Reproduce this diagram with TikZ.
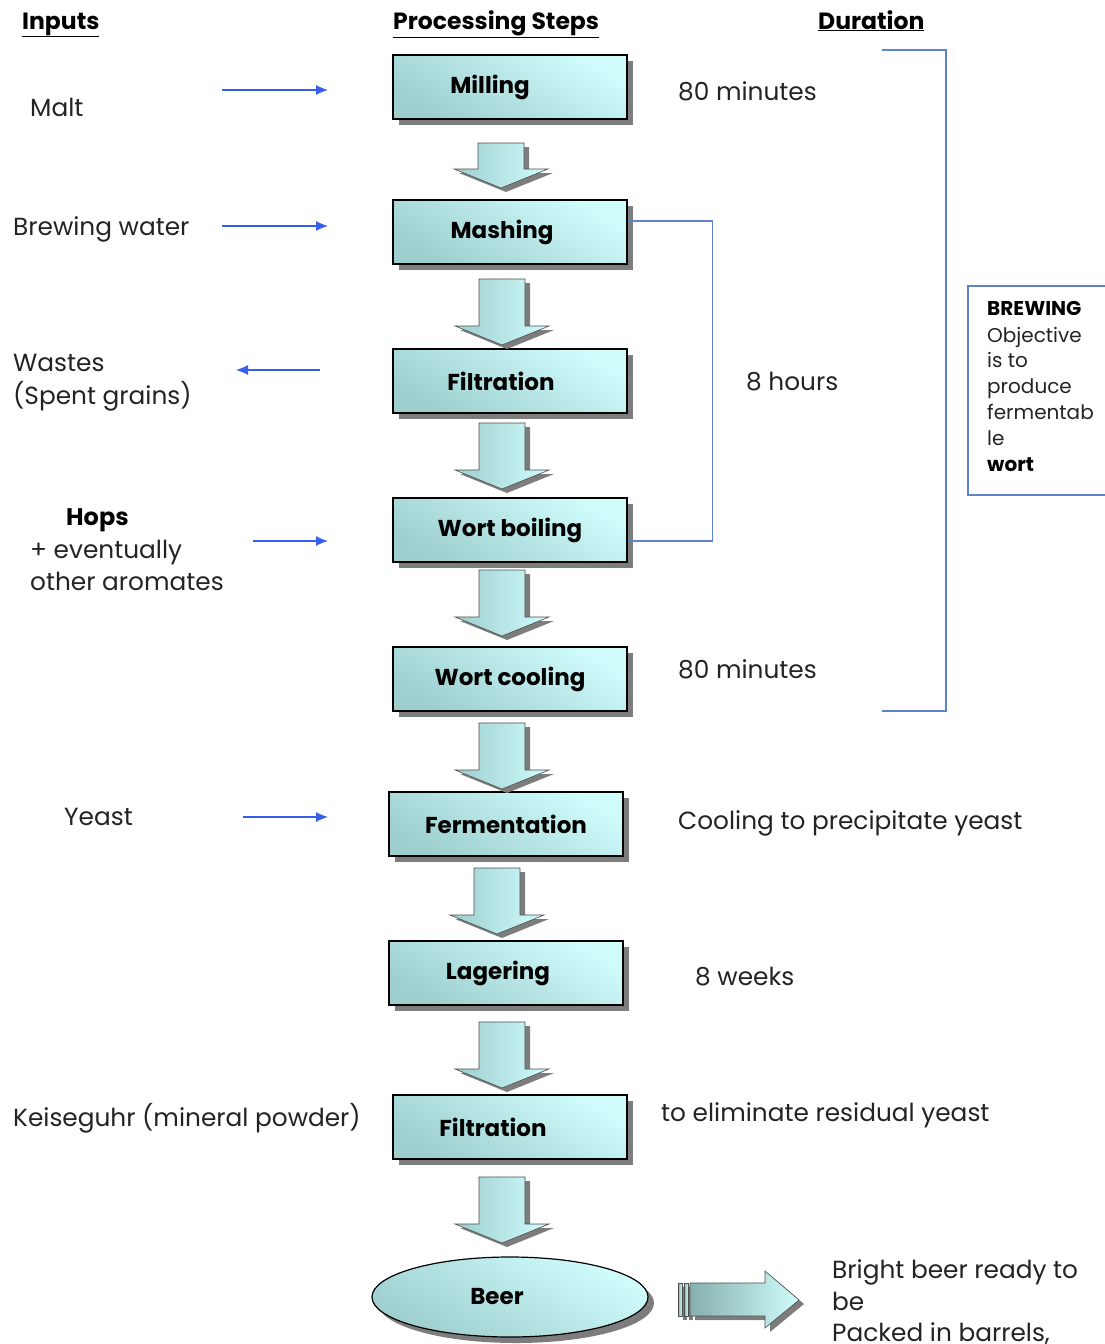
\documentclass[tikz,border=0pt]{standalone}
\usepackage{fontspec}
\setmainfont{Poppins}
\usetikzlibrary{positioning,arrows.meta,calc,shadows,shapes.geometric}
\definecolor{bwCyanLight}{RGB}{208,252,252}
\definecolor{bwCyanDark}{RGB}{158,206,206}
\definecolor{bwBlue}{RGB}{55,95,235}
\definecolor{bwFrame}{RGB}{95,130,205}
\definecolor{bwShadow}{RGB}{125,125,125}
\definecolor{bwText}{RGB}{35,35,35}

\tikzset{
  stepbox/.style={draw=black, line width=1.2pt, top color=bwCyanLight, bottom color=bwCyanDark,
    shading angle=-30, minimum width=234pt, minimum height=64pt,
    font=\fontsize{23}{27}\selectfont\bfseries,
    drop shadow={shadow xshift=6pt, shadow yshift=-6pt, fill=bwShadow, opacity=1}},
  beernode/.style={stepbox, ellipse, minimum width=276pt, minimum height=80pt, inner sep=0pt},
  flowarrow/.style={draw=black!70, line width=0.6pt, left color=bwCyanDark, right color=bwCyanLight,
    drop shadow={shadow xshift=5pt, shadow yshift=-4pt, fill=bwShadow, opacity=1}},
  packarrow/.style={flowarrow, left color=bwCyanDark!85!black, right color=bwCyanLight},
  inarrow/.style={bwBlue, line width=1.1pt, -{Latex[length=12pt,width=10pt]}},
  frameline/.style={bwFrame, line width=1.1pt},
  plain/.style={anchor=base west, inner sep=0pt, text=bwText, font=\fontsize{24.8}{32}\selectfont},
  heading/.style={anchor=base west, inner sep=0pt, font=\fontsize{23.5}{27}\selectfont\bfseries},
  small/.style={anchor=base west, inner sep=0pt, text=bwText, font=\fontsize{20}{26}\selectfont}
}

% block arrow pointing down: x, top, bottom
\newcommand{\flowdown}[3]{%
  \path[flowarrow] (#1-23,#2) -- (#1+23,#2) -- (#1+23,#3-19) -- (#1+47,#3-19)
    -- (#1,#3) -- (#1-47,#3-19) -- (#1-23,#3-19) -- cycle;}

\begin{document}
\begin{tikzpicture}[x=1pt, y=-1pt]
  \useasboundingbox (0,0) rectangle (1105,1344);

  % Column headings
  \node[heading] (hIn) at (22,29) {\underline{Inputs}};
  \node[heading] (hSteps) at (393,29) {\underline{Processing Steps}};
  \node[heading] (hDur) at (818,29) {\underline{Duration}};

  % Processing steps
  \node[stepbox] (mill) at (510,87) {\hspace*{-40pt}Milling};
  \node[stepbox] (mash) at (510,232) {\hspace*{-16pt}Mashing};
  \node[stepbox] (filt) at (510,381) {\hspace*{-18pt}Filtration};
  \node[stepbox] (boil) at (510,530) {Wort boiling};
  \node[stepbox] (cool) at (510,679) {Wort cooling};
  \node[stepbox] (ferm) at (506,824) {Fermentation};
  \node[stepbox] (lager) at (506,973) {\hspace*{-16pt}Lagering};
  \node[stepbox] (filtb) at (510,1127) {\hspace*{-34pt}Filtration};
  \node[beernode] (beer) at (510,1297) {\hspace*{-26pt}Beer};

  % Block arrows between steps
  \flowdown{501}{143}{188}
  \flowdown{502}{279}{345}
  \flowdown{502}{423}{489}
  \flowdown{502}{570}{636}
  \flowdown{502}{723}{789}
  \flowdown{497}{868}{934}
  \flowdown{502}{1022}{1088}
  \flowdown{502}{1177}{1243}

  % Inputs
  \node[plain] (malt) at (30,116) {Malt};
  \node[plain] (water) at (13,235) {Brewing water};
  \node[plain] (waste) at (13,371) {Wastes};
  \node[plain] (wasteB) at (13,404) {(Spent grains)};
  \node[plain, font=\fontsize{24}{32}\selectfont\bfseries, text=black] (hops) at (66,525) {Hops};
  \node[plain] (hopsB) at (30,558) {+ eventually};
  \node[plain] (hopsC) at (30,590) {other aromates};
  \node[plain] (yeast) at (64,825) {Yeast};
  \node[plain] (kiesel) at (13,1126) {Keiseguhr (mineral powder)};

  \coordinate (maltS) at (222,90);  \coordinate (maltE) at (328,90);
  \coordinate (waterS) at (222,226); \coordinate (waterE) at (328,226);
  \coordinate (wasteS) at (320,370); \coordinate (wasteE) at (236,370);
  \coordinate (hopsS) at (253,541); \coordinate (hopsE) at (328,541);
  \coordinate (yeastS) at (243,817); \coordinate (yeastE) at (328,817);
  \draw[inarrow] (maltS) -- (maltE);
  \draw[inarrow] (waterS) -- (waterE);
  \draw[inarrow] (wasteS) -- (wasteE);
  \draw[inarrow] (hopsS) -- (hopsE);
  \draw[inarrow] (yeastS) -- (yeastE);

  % Durations
  \node[plain] (tMill) at (678,100) {80 minutes};
  \node[plain] (tHours) at (746,390) {8 hours};
  \node[plain] (tCool) at (678,678) {80 minutes};
  \node[plain] (tFerm) at (678,829) {Cooling to precipitate yeast};
  \node[plain] (tLager) at (695,985) {8 weeks};
  \node[plain] (tFilt) at (661,1121) {to eliminate residual yeast};

  % Brackets
  \draw[frameline] ([yshift=11pt]mash.east) -- ++(85,0) |- ([yshift=-11pt]boil.east);
  \coordinate (brTop) at (882,50);
  \coordinate (brBot) at (882,711);
  \draw[frameline] (brTop) -- ++(64,0) |- (brBot);

  % Brewing note
  \draw[frameline] (1112,286) -- (968,286) -- (968,495) -- (1112,495);
  \node[small, font=\fontsize{20}{26}\selectfont\bfseries, text=black] (nBrew) at (987,315) {BREWING};
  \node[small] (nObj) at (987,342) {Objective};
  \node[small] (nIs) at (987,367) {is to};
  \node[small] (nProd) at (987,393) {produce};
  \node[small] (nFerm) at (987,419) {fermentab};
  \node[small] (nLe) at (987,445) {le};
  \node[small, font=\fontsize{20}{26}\selectfont\bfseries, text=black] (nWort) at (987,471) {wort};

  % Output arrow
  \path[packarrow] (678,1283) rectangle (682,1316);
  \path[packarrow] (684,1283) rectangle (688,1316);
  \path[packarrow] (690,1283) -- (765,1283) -- (765,1271) -- (799,1300)
    -- (765,1328) -- (765,1316) -- (690,1316) -- cycle;
  \node[plain] (bright) at (832,1278) {Bright beer ready to};
  \node[plain] (brightB) at (832,1310) {be};
  \node[plain] (brightC) at (832,1341) {Packed in barrels,};
\end{tikzpicture}
\end{document}
